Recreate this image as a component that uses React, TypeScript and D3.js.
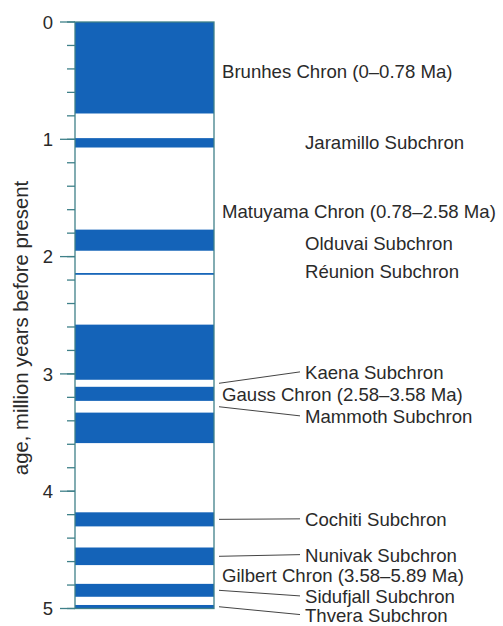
import React from "react";
import * as d3 from "d3";

// Normal-polarity intervals (Ma) drawn in blue
const normalStarts = [0, 0.99, 1.77, 2.14, 2.58, 3.11, 3.33, 4.18, 4.48, 4.79, 4.97];
const normalEnds = [0.78, 1.07, 1.95, 2.155, 3.05, 3.23, 3.59, 4.3, 4.63, 4.9, 5.0];

const majorTicks = [0, 1, 2, 3, 4, 5];
const minorTicks = d3.range(0, 5.0001, 0.2);

// Chron labels
const chronNames = [
  "Brunhes Chron (0–0.78 Ma)",
  "Matuyama Chron (0.78–2.58 Ma)",
  "Gauss Chron (2.58–3.58 Ma)",
  "Gilbert Chron (3.58–5.89 Ma)",
];
const chronLabelAges = [0.421, 1.615, 3.175, 4.715];

// Subchron labels
const subNames = [
  "Jaramillo Subchron",
  "Olduvai Subchron",
  "Réunion Subchron",
  "Kaena Subchron",
  "Mammoth Subchron",
  "Cochiti Subchron",
  "Nunivak Subchron",
  "Sidufjall Subchron",
  "Thvera Subchron",
];
const subLabelAges = [1.026, 1.887, 2.126, 2.987, 3.362, 4.24, 4.545, 4.897, 5.056];
// age the leader points at (null = no leader)
const subPointAges: (number | null)[] = [null, null, null, 3.08, 3.28, 4.24, 4.555, 4.845, 4.985];

export default function App() {
  const W = 503;
  const H = 626;
  const y = d3.scaleLinear().domain([0, 5]).range([22, 608.5]);
  const x0 = 75;
  const x1 = 214;
  const teal = "#3f8089";
  const blue = "#1463b8";
  const textColor = "#2a2a2a";
  const font = "'Liberation Sans', Arial, sans-serif";
  const fs = 18.6;

  return (
    <svg
      width={W}
      height={H}
      style={{ position: "absolute", left: 0, top: 0, background: "#fff" }}
      fontFamily={font}
    >
      {/* bands */}
      {normalStarts.map((s, i) => (
        <rect
          key={"b" + i}
          x={x0}
          y={y(s)}
          width={x1 - x0}
          height={y(normalEnds[i]) - y(s)}
          fill={blue}
        />
      ))}
      {/* outline */}
      <rect x={x0} y={y(0)} width={x1 - x0} height={y(5) - y(0)} fill="none" stroke={teal} strokeWidth={1.3} />
      {/* ticks */}
      {minorTicks.map((t, i) => (
        <line key={"m" + i} x1={67} x2={x0} y1={y(t)} y2={y(t)} stroke={teal} strokeWidth={1.3} />
      ))}
      {majorTicks.map((t) => (
        <g key={"M" + t}>
          <line x1={60} x2={x0} y1={y(t)} y2={y(t)} stroke={teal} strokeWidth={1.3} />
          <text x={53} y={y(t)} dy="0.36em" textAnchor="end" fontSize={18.5} fill={textColor}>
            {t}
          </text>
        </g>
      ))}
      {/* axis title */}
      <text
        transform={`translate(28,${328}) rotate(-90)`}
        textAnchor="middle"
        fontSize={20.3}
        fill={textColor}
      >
        age, million years before present
      </text>
      {/* chron labels */}
      {chronNames.map((n, i) => (
        <text key={"c" + i} x={222} y={y(chronLabelAges[i])} dy="0.36em" fontSize={fs} fill={textColor}>
          {n}
        </text>
      ))}
      {/* subchron labels */}
      {subNames.map((n, i) => {
        const ly = y(subLabelAges[i]);
        const pa = subPointAges[i];
        return (
          <g key={"s" + i}>
            {pa !== null && (
              <line x1={219} y1={y(pa)} x2={300} y2={ly - 0.5} stroke="#444" strokeWidth={1} />
            )}
            <text x={305} y={ly} dy="0.36em" fontSize={fs} fill={textColor}>
              {n}
            </text>
          </g>
        );
      })}
    </svg>
  );
}
